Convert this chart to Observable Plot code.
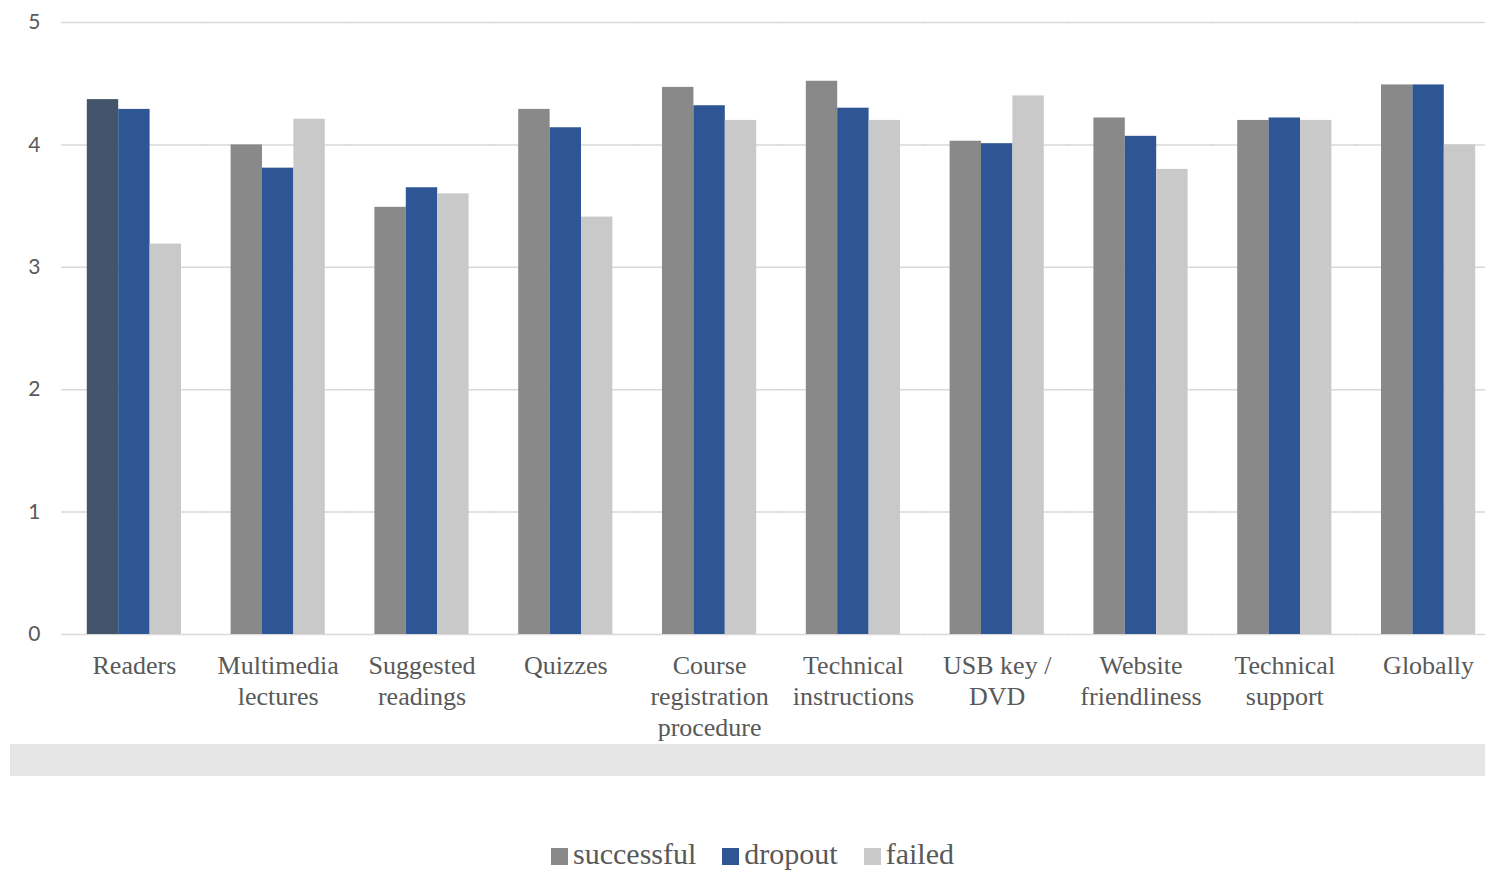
<!DOCTYPE html>
<html>
<head>
<meta charset="utf-8">
<script src="https://cdn.jsdelivr.net/npm/d3@7"></script>
<script src="https://cdn.jsdelivr.net/npm/@observablehq/plot@0.6"></script>
<style>
  html, body { margin: 0; padding: 0; background: #fff; }
  #wrap { width: 1485px; overflow: hidden; }
  #chart svg { max-width: none !important; height: 744px !important; display: block; }
  #band { margin-left: 10px; width: 1475px; height: 32px; background: #e6e6e6; }
  #legend { display: flex; justify-content: center; align-items: center; margin-top: 61px;
    font-family: "Liberation Serif", serif; font-size: 30px; color: #595959; padding-left: 20px; }
  #legend .item { display: flex; align-items: center; margin: 0 13px; }
  #legend .sw { width: 17px; height: 17px; margin-right: 5px; margin-top: 4px; }
</style>
</head>
<body>
<div id="wrap">
  <div id="chart"></div>
  <div id="band"></div>
  <div id="legend"></div>
</div>
<script>
const categories = ["Readers", "Multimedia lectures", "Suggested readings", "Quizzes",
  "Course registration procedure", "Technical instructions", "USB key / DVD",
  "Website friendliness", "Technical support", "Globally"];
const tickLabels = ["Readers", "Multimedia\nlectures", "Suggested\nreadings", "Quizzes",
  "Course\nregistration\nprocedure", "Technical\ninstructions", "USB key /\nDVD",
  "Website\nfriendliness", "Technical\nsupport", "Globally"];
const seriesNames = ["successful", "dropout", "failed"];
const successful = [4.37, 4.00, 3.49, 4.29, 4.47, 4.52, 4.03, 4.22, 4.20, 4.49];
const dropout    = [4.29, 3.81, 3.65, 4.14, 4.32, 4.30, 4.01, 4.07, 4.22, 4.49];
const failed     = [3.19, 4.21, 3.60, 3.41, 4.20, 4.20, 4.40, 3.80, 4.20, 4.00];
const yTicks = [0, 1, 2, 3, 4, 5];
const seriesColors = ["#898989", "#2e5594", "#c9c9c9"];
const highlightColor = "#44546a";

const seriesValues = [successful, dropout, failed];
const data = [];
categories.forEach((c, i) => {
  seriesNames.forEach((s, j) => {
    const color = (i === 0 && j === 0) ? highlightColor : seriesColors[j];
    data.push({category: c, series: s, value: seriesValues[j][i], color});
  });
});
const labelOf = new Map(categories.map((c, i) => [c, tickLabels[i]]));

const W = 1500, ML = 62, MR = 0;
const padIn = 0.345, padOut = 0.1725;
const step = (W - ML - MR) / (categories.length - padIn + 2 * padOut);
const gridExtend = -(step * padIn / 2 + 1);
const outerGap = step * padOut;

const chart = Plot.plot({
  width: W,
  height: 744,
  marginLeft: ML,
  marginRight: MR,
  marginTop: 22,
  marginBottom: 110,
  fx: {domain: categories, paddingInner: padIn, paddingOuter: padOut, label: null, round: false},
  x: {domain: seriesNames, padding: 0, axis: null, round: false},
  y: {domain: [0, 5], label: null},
  color: {type: "identity"},
  marks: [
    Plot.ruleY(yTicks, {stroke: "#d9d9d9", strokeWidth: 1.5, insetLeft: gridExtend, insetRight: gridExtend}),
    Plot.barY(data, {fx: "category", x: "series", y: "value", fill: "color", insetLeft: 0, insetRight: 0}),
    Plot.axisY({ticks: yTicks, tickFormat: d3.format("d"), tickSize: 0, tickPadding: 22 + outerGap, fontSize: 21,
      fontFamily: "Lato, 'Open Sans', sans-serif", fill: "#595959", label: null}),
    Plot.axisFx({anchor: "bottom", tickSize: 0, tickPadding: 18, fontSize: 26,
      fontFamily: "'Liberation Serif', serif", fill: "#595959", lineHeight: 1.19,
      label: null, tickFormat: d => labelOf.get(d)})
  ]
});
document.getElementById("chart").appendChild(chart);

const legend = document.getElementById("legend");
seriesNames.forEach((s, j) => {
  const item = document.createElement("div");
  item.className = "item";
  const sw = document.createElement("span");
  sw.className = "sw";
  sw.style.background = seriesColors[j];
  const t = document.createElement("span");
  t.textContent = s;
  item.appendChild(sw);
  item.appendChild(t);
  legend.appendChild(item);
});
</script>
</body>
</html>
